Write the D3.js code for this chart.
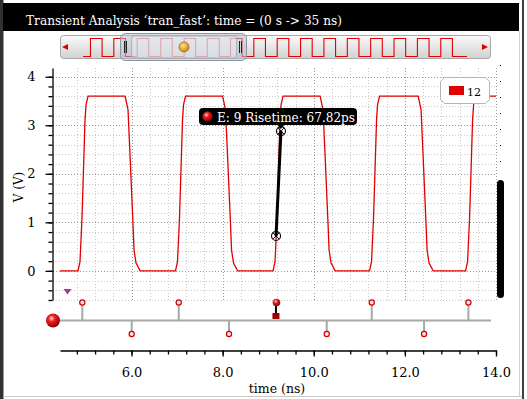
<!DOCTYPE html>
<html>
<head>
<meta charset="utf-8">
<title>Transient Analysis tran_fast</title>
<script src="https://cdn.jsdelivr.net/npm/d3@7/dist/d3.min.js"></script>
<style>
    body { margin: 0; background: #fff; }
    svg { display: block; }
    text { font-family: "DejaVu Serif", serif; }
    .tick text { font-family: "DejaVu Serif", serif; fill: #000; }
</style>
</head>
<body>
<svg width="527" height="399"></svg>
<script>
// main waveform, net "12" (time in ns, volts)
const waveT = [4.43, 4.825, 4.869, 4.913, 4.957, 4.979, 5.001, 5.045,
    5.859, 5.923, 5.967, 6.033, 6.055, 6.099, 6.189,
    6.965, 7.009, 7.053, 7.097, 7.119, 7.141, 7.185,
    7.999, 8.063, 8.107, 8.173, 8.195, 8.239, 8.329,
    9.106, 9.15, 9.194, 9.238, 9.26, 9.282, 9.326,
    10.14, 10.204, 10.248, 10.314, 10.336, 10.38, 10.47,
    11.224, 11.268, 11.312, 11.356, 11.378, 11.4, 11.444,
    12.291, 12.355, 12.399, 12.465, 12.487, 12.531, 12.621,
    13.332, 13.376, 13.42, 13.464, 13.486, 13.508, 13.552, 14.0];
const waveV = [0, 0, 0.19, 1.09, 2.43, 3.11, 3.42, 3.6,
    3.6, 3.32, 2.39, 0.95, 0.43, 0.16, 0,
    0, 0.19, 1.09, 2.43, 3.11, 3.42, 3.6,
    3.6, 3.32, 2.39, 0.95, 0.43, 0.16, 0,
    0, 0.19, 1.09, 2.43, 3.11, 3.42, 3.6,
    3.6, 3.32, 2.39, 0.95, 0.43, 0.16, 0,
    0, 0.19, 1.09, 2.43, 3.11, 3.42, 3.6,
    3.6, 3.32, 2.39, 0.95, 0.43, 0.16, 0,
    0, 0.19, 1.09, 2.43, 3.11, 3.42, 3.6, 3.6];

// overview strip (0 -> 35 ns)
const miniRiseT = [0.68, 2.81, 4.94, 7.08, 9.22, 11.33, 13.44, 15.57, 17.70, 19.83, 21.96, 24.09, 26.22, 28.35, 30.48, 32.61];
const miniFallT = [1.74, 3.87, 5.99, 8.13, 10.27, 12.42, 14.50, 16.63, 18.76, 20.89, 23.02, 25.15, 27.28, 29.41, 31.54, 33.67];

// edge event markers
const riseEventT = [4.92, 7.036, 9.17, 11.273, 13.394];
const fallEventT = [6.004, 8.14, 10.285, 12.421];
const selectedRise = 2;

// risetime measurement (20% / 80% points)
const measT = [9.172, 9.28];
const measV = [0.72, 2.88];
const measLabel = 'E: 9 Risetime: 67.82ps';

const xTickValues = [6, 8, 10, 12, 14];
const xTickLabels = ['6.0', '8.0', '10.0', '12.0', '14.0'];
const yTickValues = [0, 1, 2, 3, 4];
const yTickLabels = ['0', '1', '2', '3', '4'];
const legendLabel = '12';
const titleText = 'Transient Analysis \u2018tran_fast\u2019: time = (0 s -> 35 ns)';

(function (d3) {
    'use strict';
    const svg = d3.select('svg');
    const red = '#e00000';

    const defs = svg.append('defs');
    const ball = defs.append('radialGradient').attr('id', 'ball')
        .attr('cx', '40%').attr('cy', '35%').attr('r', '65%');
    ball.append('stop').attr('offset', '0%').attr('stop-color', '#ffe0e0');
    ball.append('stop').attr('offset', '35%').attr('stop-color', '#f02020');
    ball.append('stop').attr('offset', '100%').attr('stop-color', '#900000');
    const bar = defs.append('linearGradient').attr('id', 'bar')
        .attr('x1', 0).attr('y1', 0).attr('x2', 0).attr('y2', 1);
    bar.append('stop').attr('offset', '0%').attr('stop-color', '#fafafa');
    bar.append('stop').attr('offset', '100%').attr('stop-color', '#d2d2d2');
    const gold = defs.append('radialGradient').attr('id', 'gold')
        .attr('cx', '40%').attr('cy', '35%').attr('r', '65%');
    gold.append('stop').attr('offset', '0%').attr('stop-color', '#ffe08a');
    gold.append('stop').attr('offset', '100%').attr('stop-color', '#c88a10');
    defs.append('clipPath').attr('id', 'plotClip')
        .append('rect').attr('x', 60).attr('y', 68).attr('width', 436).attr('height', 232);

    // window frame + title bar
    svg.append('rect').attr('x', 0).attr('y', 0).attr('width', 3).attr('height', 399).attr('fill', '#303030');
    svg.append('line').attr('x1', 3.5).attr('x2', 3.5).attr('y1', 0).attr('y2', 399).attr('stroke', '#9a9a9a');
    svg.append('line').attr('x1', 519.5).attr('x2', 519.5).attr('y1', 31).attr('y2', 397).attr('stroke', '#d0d0d0');
    svg.append('rect').attr('x', 522).attr('y', 0).attr('width', 2).attr('height', 399).attr('fill', '#404040');
    svg.append('line').attr('x1', 3).attr('x2', 522).attr('y1', 396.5).attr('y2', 396.5).attr('stroke', '#c8c8c8');
    svg.append('rect').attr('x', 3).attr('y', 3).attr('width', 516).attr('height', 28).attr('fill', '#000');
    svg.append('text').attr('x', 26).attr('y', 25)
        .attr('fill', '#fff').attr('font-size', 13.5)
        .attr('textLength', 316).attr('lengthAdjust', 'spacingAndGlyphs')
        .text(titleText);

    // overview scrollbar
    const mx = d3.scaleLinear().domain([0, 35]).range([83, 467]);
    const my = d3.scaleLinear().domain([0, 3.6]).range([56.5, 38.5]);
    svg.append('rect').attr('x', 60.5).attr('y', 35.5).attr('width', 430).attr('height', 23).attr('rx', 3)
        .attr('fill', 'url(#bar)').attr('stroke', '#a8a8a8');
    const miniPts = [[0, 0]];
    miniRiseT.forEach((r, i) => {
        miniPts.push([r, 0], [r, 3.6], [miniFallT[i], 3.6], [miniFallT[i], 0]);
    });
    miniPts.push([35, 0]);
    svg.append('path').datum(miniPts)
        .attr('d', d3.line().x(d => mx(d[0])).y(d => my(d[1])))
        .attr('fill', 'none').attr('stroke', red).attr('stroke-width', 1.1);
    svg.append('path').attr('d', 'M62,47 L68,44 L68,50 Z').attr('fill', red);
    svg.append('path').attr('d', 'M488,47 L482,44 L482,50 Z').attr('fill', red);
    // thumb
    svg.append('rect').attr('x', 120.5).attr('y', 33.5).attr('width', 126).attr('height', 27).attr('rx', 5)
        .attr('fill', '#b8c0cc').attr('fill-opacity', 0.55).attr('stroke', '#8a94a2');
    svg.append('rect').attr('x', mx(4.43)).attr('y', 36).attr('width', mx(14) - mx(4.43)).attr('height', 22).attr('rx', 3)
        .attr('fill', '#f4f6f8').attr('fill-opacity', 0.45).attr('stroke', '#9aa4b0').attr('stroke-width', 0.8);
    [124.5, 126.5, 239.5, 241.5].forEach(gx => {
        svg.append('line').attr('x1', gx).attr('x2', gx).attr('y1', 41).attr('y2', 53)
            .attr('stroke', '#222').attr('stroke-width', 1);
    });
    svg.append('circle').attr('cx', 184).attr('cy', 47).attr('r', 5)
        .attr('fill', 'url(#gold)').attr('stroke', '#a06a10').attr('stroke-width', 0.8);

    // scales
    const x = d3.scaleLinear().domain([4.43, 14.0]).range([60, 496]);
    const y = d3.scaleLinear().domain([-0.6, 4.18]).range([300, 68]);

    // grid
    const xMinor = d3.range(12, 36).map(i => +(i * 0.4).toFixed(1));
    const yMinor = d3.range(-3, 21).map(i => +(i * 0.2).toFixed(1));
    const grid = svg.append('g').attr('shape-rendering', 'crispEdges');
    grid.selectAll('.vg').data(xMinor).enter().append('line')
        .attr('x1', d => Math.round(x(d)) + 0.5).attr('x2', d => Math.round(x(d)) + 0.5)
        .attr('y1', 68).attr('y2', 300)
        .attr('stroke', d => xTickValues.includes(d) ? '#9a9a9a' : '#c8c8c8')
        .attr('stroke-dasharray', '1,2');
    grid.selectAll('.hg').data(yMinor).enter().append('line')
        .attr('x1', 53).attr('x2', 496)
        .attr('y1', d => Math.round(y(d)) + 0.5).attr('y2', d => Math.round(y(d)) + 0.5)
        .attr('stroke', d => yTickValues.includes(d) ? '#9a9a9a' : '#c8c8c8')
        .attr('stroke-dasharray', '1,2');

    // y axis
    const yAxisG = svg.append('g').attr('transform', 'translate(52.5,0)');
    yAxisG.append('g').call(d3.axisLeft(y).tickValues(yMinor).tickSize(4).tickSizeOuter(0).tickFormat(''));
    yAxisG.append('g').call(d3.axisLeft(y).tickValues(yTickValues).tickSize(7).tickPadding(10)
        .tickFormat((d, i) => yTickLabels[i]))
        .call(g => g.select('.domain').remove());
    yAxisG.selectAll('text').attr('font-size', 13);
    yAxisG.selectAll('line, path').attr('stroke', '#000').attr('stroke-width', 1.3);
    svg.append('text').attr('transform', 'translate(23,187) rotate(-90)')
        .attr('text-anchor', 'middle').attr('font-size', 12).text('V (V)');

    // waveform
    const wave = waveT.map((t, i) => [t, waveV[i]]);
    svg.append('path').datum(wave)
        .attr('clip-path', 'url(#plotClip)')
        .attr('d', d3.line().x(d => x(d[0])).y(d => y(d[1])))
        .attr('fill', 'none').attr('stroke', red).attr('stroke-width', 1.3);

    // risetime measurement
    const mp = measT.map((t, i) => [x(t), y(measV[i])]);
    svg.append('line').attr('x1', mp[0][0]).attr('y1', mp[0][1]).attr('x2', mp[1][0]).attr('y2', mp[1][1])
        .attr('stroke', '#000').attr('stroke-width', 3);
    mp.forEach(p => {
        svg.append('circle').attr('cx', p[0]).attr('cy', p[1]).attr('r', 4.5)
            .attr('fill', 'none').attr('stroke', '#000').attr('stroke-width', 1.1);
        svg.append('path').attr('d', `M${p[0] - 3},${p[1] - 3}L${p[0] + 3},${p[1] + 3}M${p[0] + 3},${p[1] - 3}L${p[0] - 3},${p[1] + 3}`)
            .attr('stroke', '#000').attr('stroke-width', 1);
    });

    // tooltip
    const tip = svg.append('g');
    tip.append('rect').attr('x', 199).attr('y', 108).attr('width', 158).attr('height', 17).attr('rx', 4).attr('fill', '#000');
    tip.append('path').attr('d', `M${mp[1][0] - 4},124 L${mp[1][0] + 4},124 L${mp[1][0]},129 Z`).attr('fill', '#000');
    tip.append('circle').attr('cx', 207.5).attr('cy', 116.5).attr('r', 5).attr('fill', 'url(#ball)');
    tip.append('text').attr('x', 217).attr('y', 121.5).attr('fill', '#fff').attr('font-size', 12)
        .attr('textLength', 138).attr('lengthAdjust', 'spacingAndGlyphs').text(measLabel);

    // legend
    const lg = svg.append('g');
    lg.append('path').attr('d', 'M444.5,77.5 H485.5 L489.5,81.5 V99.5 L485.5,103.5 H444.5 L440.5,99.5 V81.5 Z')
        .attr('fill', '#fff').attr('stroke', '#b4b4b4');
    lg.append('rect').attr('x', 449).attr('y', 86).attr('width', 15).attr('height', 9).attr('fill', red);
    lg.append('text').attr('x', 467).attr('y', 95.5).attr('font-size', 11).text(legendLabel);

    // right side scroller
    d3.range(7).forEach(i => {
        svg.append('rect').attr('x', 500).attr('y', 65 + i * 16).attr('width', 1).attr('height', 1).attr('fill', '#000');
    });
    svg.append('rect').attr('x', 497).attr('y', 180).attr('width', 7).attr('height', 118).attr('rx', 3.5).attr('fill', '#000');

    // purple marker
    svg.append('path').attr('d', 'M63.5,289 L71.5,289 L67.5,294.5 Z').attr('fill', '#a03aa0');

    // event strip
    const baseY = 320.5;
    svg.append('line').attr('x1', 60).attr('x2', 491).attr('y1', baseY).attr('y2', baseY)
        .attr('stroke', '#a8a8a8').attr('stroke-width', 2);
    svg.append('circle').attr('cx', 53).attr('cy', baseY).attr('r', 7).attr('fill', 'url(#ball)');
    const evG = svg.append('g');
    riseEventT.forEach((t, i) => {
        const ex = x(t);
        if (i === selectedRise) {
            evG.append('line').attr('x1', ex).attr('x2', ex).attr('y1', 304).attr('y2', 314)
                .attr('stroke', '#000').attr('stroke-width', 2);
            evG.append('rect').attr('x', ex - 3.5).attr('y', 313).attr('width', 7).attr('height', 6).attr('fill', '#a00000');
            evG.append('circle').attr('cx', ex + 0.5).attr('cy', 302.5).attr('r', 3.8).attr('fill', 'url(#ball)');
        } else {
            evG.append('line').attr('x1', ex).attr('x2', ex).attr('y1', baseY).attr('y2', 304)
                .attr('stroke', '#a8a8a8').attr('stroke-width', 2);
            evG.append('circle').attr('cx', ex).attr('cy', 302.5).attr('r', 2.6)
                .attr('fill', '#ffe0e0').attr('stroke', '#d00000').attr('stroke-width', 1.2);
        }
    });
    fallEventT.forEach(t => {
        const ex = x(t);
        evG.append('line').attr('x1', ex).attr('x2', ex).attr('y1', baseY).attr('y2', 332)
            .attr('stroke', '#a8a8a8').attr('stroke-width', 2);
        evG.append('circle').attr('cx', ex).attr('cy', 334).attr('r', 2.6)
            .attr('fill', '#ffe0e0').attr('stroke', '#d00000').attr('stroke-width', 1.2);
    });

    // x axis
    const xAxisG = svg.append('g').attr('transform', 'translate(0,350.5)');
    xAxisG.append('g').call(d3.axisBottom(x).tickValues(xMinor).tickSize(4).tickSizeOuter(0).tickFormat(''));
    xAxisG.append('g').call(d3.axisBottom(x).tickValues(xTickValues).tickSize(6).tickPadding(11)
        .tickFormat((d, i) => xTickLabels[i]))
        .call(g => g.select('.domain').remove());
    xAxisG.selectAll('text').attr('font-size', 13);
    xAxisG.selectAll('line, path').attr('stroke', '#000').attr('stroke-width', 1.3);
    svg.append('text').attr('x', 277).attr('y', 393).attr('text-anchor', 'middle')
        .attr('font-size', 12.5).text('time (ns)');
}(d3));
</script>
</body>
</html>
